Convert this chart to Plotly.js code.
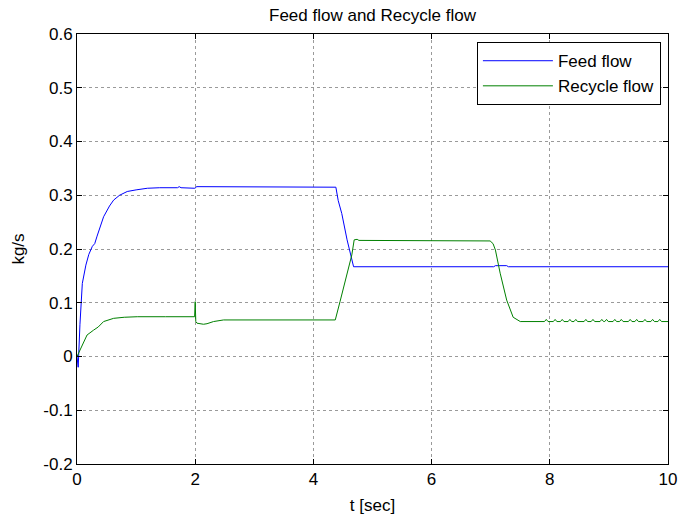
<!DOCTYPE html>
<html>
<head>
<meta charset="utf-8">
<script src="https://cdn.plot.ly/plotly-3.0.1.min.js"></script>
<style>
  html, body { margin: 0; padding: 0; background: #fff; }
  #chart { width: 694px; height: 516px; }
</style>
</head>
<body>
<div id="chart"></div>
<script>
// Feed flow (kg/s) against time (s)
const feedTime = [0, 0.02, 0.05, 0.09, 0.15, 0.2, 0.26, 0.3, 0.34, 0.45, 0.55, 0.62, 0.72, 0.85, 1.0, 1.19, 1.4, 1.7, 1.73, 1.76, 1.99, 2.0, 2.02, 4.38, 4.42, 4.48, 4.57, 4.63, 4.68, 7.05, 7.08, 7.27, 7.3, 10];
const feedFlow = [0, -0.02, 0.06, 0.136, 0.17, 0.19, 0.205, 0.21, 0.224, 0.26, 0.28, 0.291, 0.300, 0.307, 0.310, 0.313, 0.314, 0.314, 0.316, 0.314, 0.313, 0.313, 0.316, 0.315, 0.29, 0.266, 0.217, 0.19, 0.167, 0.167, 0.169, 0.169, 0.167, 0.167];

// Recycle flow (kg/s) against time (s)
const recycleTime = [0, 0.05, 0.09, 0.17, 0.28, 0.36, 0.45, 0.55, 0.62, 0.8, 1.02, 1.5, 1.99, 2.0, 2.01, 2.03, 2.14, 2.2, 2.31, 2.48, 4.37, 4.45, 4.57, 4.65, 4.69, 4.74, 4.77, 6.99, 7.04, 7.08, 7.16, 7.27, 7.38, 7.5,
  7.91, 7.94, 7.97, 8.06, 8.09, 8.12, 8.18, 8.21, 8.24, 8.31, 8.34, 8.37, 8.41, 8.44, 8.47, 8.58, 8.61, 8.64, 8.70, 8.73, 8.76, 8.85, 8.88, 8.91,
  8.93, 8.96, 8.99, 9.07, 9.10, 9.13, 9.18, 9.21, 9.24, 9.33, 9.36, 9.39, 9.44, 9.47, 9.50, 9.58, 9.61, 9.64, 9.71, 9.74, 9.77, 9.83, 9.86, 9.89, 10];
const recycleFlow = [0, 0.012, 0.024, 0.040, 0.049, 0.055, 0.065, 0.069, 0.071, 0.073, 0.074, 0.074, 0.074, 0.102, 0.065, 0.062, 0.060, 0.061, 0.065, 0.068, 0.068, 0.102, 0.155, 0.189, 0.217, 0.218, 0.216, 0.215, 0.210, 0.198, 0.155, 0.105, 0.073, 0.065,
  0.065, 0.069, 0.065, 0.065, 0.069, 0.065, 0.065, 0.069, 0.065, 0.065, 0.069, 0.065, 0.065, 0.069, 0.065, 0.065, 0.069, 0.065, 0.065, 0.069, 0.065, 0.065, 0.069, 0.065,
  0.065, 0.069, 0.065, 0.065, 0.069, 0.065, 0.065, 0.069, 0.065, 0.065, 0.069, 0.065, 0.065, 0.069, 0.065, 0.065, 0.069, 0.065, 0.065, 0.069, 0.065, 0.065, 0.069, 0.065, 0.065];

// Axis ticks
const xTicks = [0, 2, 4, 6, 8, 10];
const xTickLabels = ['0', '2', '4', '6', '8', '10'];
const yTicks = [-0.2, -0.1, 0, 0.1, 0.2, 0.3, 0.4, 0.5, 0.6];
const yTickLabels = ['-0.2', '-0.1', '0', '0.1', '0.2', '0.3', '0.4', '0.5', '0.6'];

const font = 'Liberation Sans, Arial, sans-serif';

const traces = [
  { x: feedTime, y: feedFlow, type: 'scatter', mode: 'lines', name: 'Feed flow',
    line: { color: '#0000ff', width: 1 } },
  { x: recycleTime, y: recycleFlow, type: 'scatter', mode: 'lines', name: 'Recycle flow',
    line: { color: '#008000', width: 1 } }
];

const axisCommon = {
  showline: true, linecolor: '#000', linewidth: 1, mirror: 'ticks',
  ticks: 'inside', ticklen: 5, tickcolor: '#000',
  showgrid: true, gridcolor: '#9a9a9a', griddash: 'dot', gridwidth: 1,
  zeroline: false, tickfont: { family: font, size: 17, color: '#000' }
};

const layout = {
  width: 694, height: 516,
  margin: { l: 76.5, r: 26, t: 34, b: 52 },
  paper_bgcolor: '#fff', plot_bgcolor: '#fff',
  font: { family: font, color: '#000' },
  title: { text: 'Feed flow and Recycle flow', font: { family: font, size: 17, color: '#000' },
    x: 0.5, xref: 'paper', y: 1 - 15 / 516, yanchor: 'middle' },
  xaxis: Object.assign({}, axisCommon, {
    range: [0, 10], tickvals: xTicks, ticktext: xTickLabels,
    title: { text: 't [sec]', font: { family: font, size: 17, color: '#000' }, standoff: 10 }
  }),
  yaxis: Object.assign({}, axisCommon, {
    range: [-0.2, 0.6], tickvals: yTicks, ticktext: yTickLabels,
    title: { text: 'kg/s', font: { family: font, size: 17, color: '#000' }, standoff: 14 }
  }),
  showlegend: true,
  legend: {
    x: 0.988, xanchor: 'right', y: 0.981, yanchor: 'top',
    bgcolor: '#fff', bordercolor: '#000', borderwidth: 1,
    font: { family: font, size: 17, color: '#000' },
    itemwidth: 70,
    tracegroupgap: 0
  }
};

Plotly.newPlot('chart', traces, layout, { displayModeBar: false, staticPlot: true });
</script>
</body>
</html>
